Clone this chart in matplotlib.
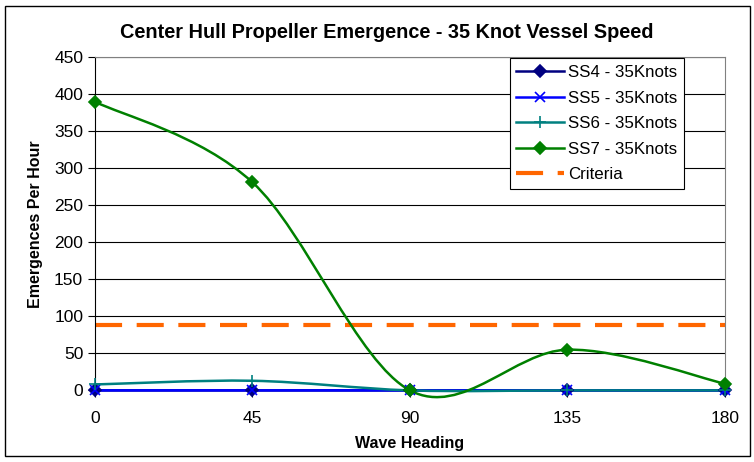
import matplotlib
matplotlib.use('Agg')
import matplotlib.pyplot as plt
from matplotlib.path import Path
from matplotlib.patches import PathPatch, Rectangle
from matplotlib.lines import Line2D

plt.rcParams['font.family'] = ['Liberation Sans', 'DejaVu Sans']

# datos
headings = [0, 45, 90, 135, 180]
ss4 = [0, 0, 0, 0, 0]
ss5 = [0, 0, 0, 0, 0]
ss6 = [8, 13, 0, 0, 0]
ss7 = [390, 281, 0, 55, 9]
criteria = 88

series = [
    ('SS4 - 35Knots', ss4, '#000080', 'D', 6),
    ('SS5 - 35Knots', ss5, '#0000FF', 'x', 7),
    ('SS6 - 35Knots', ss6, '#008080', '+', 9),
    ('SS7 - 35Knots', ss7, '#008000', 'D', 6),
]


def excel_smooth(xs, ys):
    # curva suavizada tipo Excel (bezier cubica, estilo Catmull-Rom)
    pts = list(zip(xs, ys))
    verts = [pts[0]]
    codes = [Path.MOVETO]
    n = len(pts)
    for i in range(n - 1):
        p0 = pts[i - 1] if i > 0 else pts[i]
        p1 = pts[i]
        p2 = pts[i + 1]
        p3 = pts[i + 2] if i + 2 < n else pts[i + 1]
        c1 = (p1[0] + (p2[0] - p0[0]) / 6, p1[1] + (p2[1] - p0[1]) / 6)
        c2 = (p2[0] - (p3[0] - p1[0]) / 6, p2[1] - (p3[1] - p1[1]) / 6)
        verts += [c1, c2, p2]
        codes += [Path.CURVE4] * 3
    return Path(verts, codes)


fig = plt.figure(figsize=(7.54, 4.62), dpi=100)
ax = fig.add_axes([0.126, 0.155, 0.8355, 0.721])

ax.axhline(criteria, color='#FF6600', lw=3, dashes=(6.5, 3.5), zorder=2)

handles = []
for label, vals, color, marker, ms in series:
    patch = PathPatch(excel_smooth(headings, vals), fill=False, ec=color, lw=1.8,
                      zorder=3, clip_on=False)
    ax.add_patch(patch)
    ax.plot(headings, vals, ls='none', marker=marker, color=color, ms=ms,
            mew=1.2, zorder=4, clip_on=False)
    handles.append(Line2D([], [], color=color, lw=1.8, marker=marker, ms=ms, mew=1.2))
handles.append(Line2D([], [], color='#FF6600', lw=3, dashes=(6.5, 3.5)))

ax.set_xlim(0, 180)
ax.set_ylim(0, 450)
ax.set_xticks(headings)
ax.set_yticks(range(0, 451, 50))
ax.yaxis.grid(True, color='black', lw=0.8)
ax.set_axisbelow(True)
ax.tick_params(axis='both', labelsize=12.5, length=5, width=0.8, color='black')
ax.tick_params(axis='x', pad=10)
for side in ['top', 'right']:
    ax.spines[side].set_color('#808080')
ax.spines['left'].set_color('black')
ax.spines['bottom'].set_color('black')

ax.set_xlabel('Wave Heading', fontsize=11.5, fontweight='bold', labelpad=7)
ax.set_ylabel('Emergences Per Hour', fontsize=11.5, fontweight='bold', labelpad=8)
fig.text(0.513, 0.929, 'Center Hull Propeller Emergence - 35 Knot Vessel Speed',
         fontsize=14.3, fontweight='bold', ha='center', va='center')

labels = [s[0] for s in series] + ['Criteria']
leg = ax.legend(handles, labels, loc='upper right', bbox_to_anchor=(0.935, 0.997),
                fontsize=12.2, frameon=True, fancybox=False, edgecolor='black',
                framealpha=1, handlelength=2.8, borderpad=0.4, labelspacing=0.62,
                handletextpad=0.25, borderaxespad=0)
leg.get_frame().set_linewidth(0.8)

fig.patches.append(Rectangle((0.007, 0.012), 0.988, 0.976, transform=fig.transFigure,
                             fill=False, ec='black', lw=1))

fig.savefig('out.png', dpi=100)
